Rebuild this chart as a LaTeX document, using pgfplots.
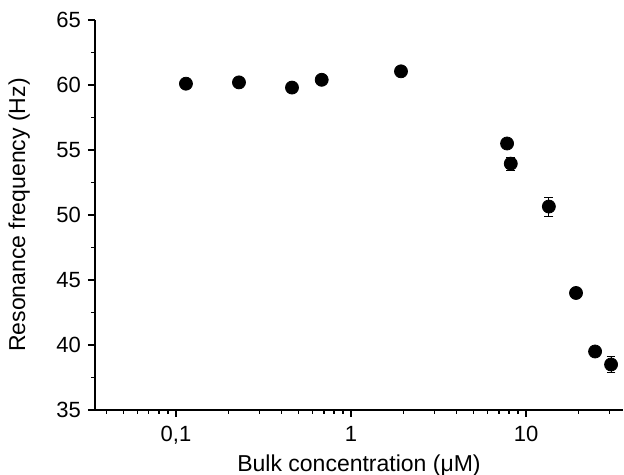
\documentclass[border=0pt]{standalone}
\usepackage{fontspec}
\setmainfont{Liberation Sans}
\usepackage{pgfplots}
\pgfplotsset{compat=1.18}
\usetikzlibrary{calc}
\begin{document}
\begin{tikzpicture}
\begin{axis}[
  scale only axis,
  width=264pt, height=195pt,
  xmode=log,
  xmin=0.03445, xmax=35.8,
  ymin=35, ymax=65,
  axis lines=left,
  axis line style={-, line width=0.75pt},
  every tick/.style={black, line width=0.6pt},
  tick align=outside,
  major tick length=3.5pt,
  minor tick length=2pt,
  xtick={0.1,1,10},
  xticklabels={0{,}1,1,10},
  minor xtick={0.04,0.05,0.06,0.07,0.08,0.09,0.2,0.3,0.4,0.5,0.6,0.7,0.8,0.9,2,3,4,5,6,7,8,9,20,30},
  ytick={35,40,45,50,55,60,65},
  minor ytick={37.5,42.5,47.5,52.5,57.5,62.5},
  /pgf/number format/assume math mode=true,
  tick label style={font=\fontsize{11}{13}\selectfont},
  label style={font=\fontsize{11.5}{13.5}\selectfont},
  xticklabel style={yshift=-1pt},
  xlabel={Bulk concentration (μM)},
  ylabel={Resonance frequency (Hz)},
  xlabel style={at={(axis description cs:0.5,-0.0833)}, anchor=north, yshift=-2.5pt},
  ylabel style={at={(axis description cs:-0.11,0.5)}, anchor=south},
  clip=false,
]
\addplot[only marks, mark=*, mark size=3.25pt, black,
  error bars/.cd, y dir=both, y explicit,
  error bar style={line width=0.5pt, black},
  error mark options={rotate=90, mark size=2.2pt, line width=0.5pt}]
  table[x=x, y=y, y error=e] {
x y e
0.114 60.1 0.15
0.229 60.2 0.2
0.46 59.8 0.15
0.68 60.4 0.15
1.93 61.05 0.15
7.79 55.5 0.2
8.18 53.95 0.5
13.5 50.65 0.73
19.3 44.0 0.3
24.8 39.5 0.4
30.6 38.5 0.6
};
\end{axis}
\pgfresetboundingbox
\path[use as bounding box] ($(current axis.south west)+(-47.5pt,-32.5pt)$) rectangle ($(current axis.north east)+(0.5pt,10pt)$);
\end{tikzpicture}
\end{document}
